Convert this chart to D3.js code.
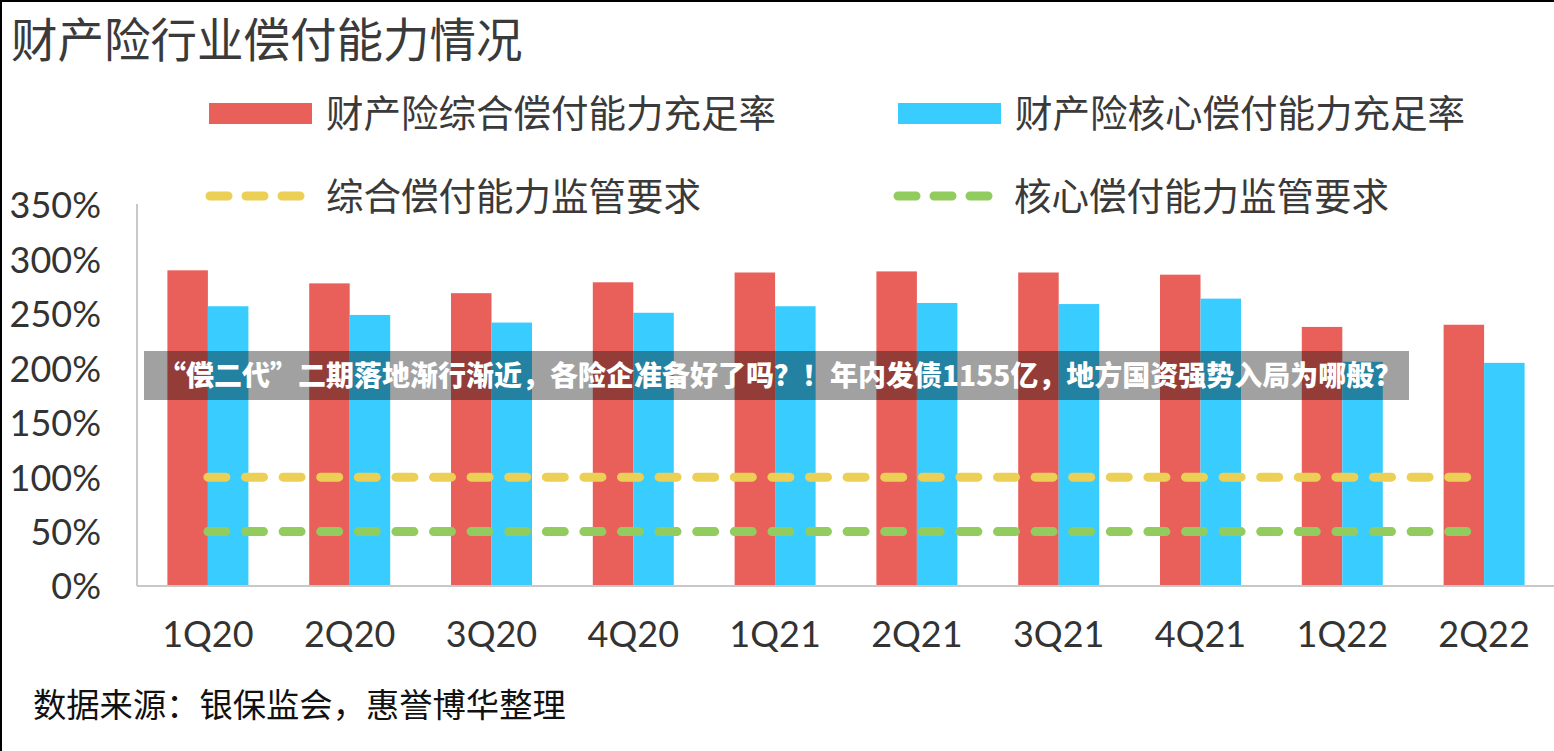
<!DOCTYPE html>
<html>
<head>
<meta charset="utf-8">
<script src="https://cdn.jsdelivr.net/npm/d3@7"></script>
<style>
  html, body { margin: 0; padding: 0; background: #fff; }
  svg { display: block; }
</style>
</head>
<body>
<svg id="chart" width="1554" height="751"></svg>
<script>
// ---- data ----
const categories = ['1Q20','2Q20','3Q20','4Q20','1Q21','2Q21','3Q21','4Q21','1Q22','2Q22'];
const comprehensiveRatio = [290, 278, 269, 279, 288, 289, 288, 286, 238, 240];
const coreRatio = [257, 249, 242, 251, 257, 260, 259, 264, 206, 205];
const comprehensiveRequirement = 100;
const coreRequirement = 50;
const yTicks = [0, 50, 100, 150, 200, 250, 300, 350];
const seriesNames = ['财产险综合偿付能力充足率', '财产险核心偿付能力充足率'];
const lineNames = ['综合偿付能力监管要求', '核心偿付能力监管要求'];
const titleText = '财产险行业偿付能力情况';
const sourceText = '数据来源：银保监会，惠誉博华整理';
const bannerText = '“偿二代”二期落地渐行渐近，各险企准备好了吗？！年内发债1155亿，地方国资强势入局为哪般？';

const colors = { red: '#E9605A', blue: '#38CCFF', yellow: '#ECCF55', green: '#92CB5E' };
const cjk = '"Noto Sans CJK SC", "Noto Sans", sans-serif';
const latin = 'Lato, "Noto Sans", sans-serif';

const svg = d3.select('#chart');

// border (left and top)
svg.append('line').attr('x1', 1).attr('y1', 0).attr('x2', 1).attr('y2', 751).attr('stroke', '#000').attr('stroke-width', 2);
svg.append('line').attr('x1', 0).attr('y1', 1).attr('x2', 1554).attr('y2', 1).attr('stroke', '#000').attr('stroke-width', 2);

// title
svg.append('text').attr('x', 11).attr('y', 57)
  .attr('font-family', cjk).attr('font-size', 46.5).attr('fill', '#3a3a3a')
  .text(titleText);

// scales
const plot = { left: 137, right: 1555, top: 205, bottom: 586 };
const x = d3.scaleBand().domain(categories).range([plot.left, plot.right]).padding(0);
const inner = d3.scaleBand().domain([0, 1]).range([30.4, x.bandwidth() - 30.4]).padding(0);
const y = d3.scaleLinear().domain([0, 350]).range([plot.bottom, plot.top]);

// y axis labels
const yAxis = d3.axisLeft(y).tickValues(yTicks).tickFormat(d => d + '%').tickSize(0).tickPadding(0);
const gy = svg.append('g').attr('transform', 'translate(101,0)').call(yAxis);
gy.select('.domain').remove();
gy.selectAll('text').attr('font-family', latin).attr('font-size', 36).attr('fill', '#333').attr('dy', '0.36em');

// bars
const barData = categories.map((c, i) => [
  { c, s: 0, v: comprehensiveRatio[i] },
  { c, s: 1, v: coreRatio[i] }
]).flat();
svg.append('g').selectAll('rect').data(barData).join('rect')
  .attr('x', d => x(d.c) + inner(d.s))
  .attr('width', inner.bandwidth())
  .attr('y', d => y(d.v))
  .attr('height', d => y(0) - y(d.v))
  .attr('fill', d => d.s === 0 ? colors.red : colors.blue);

// axes lines
svg.append('line').attr('x1', plot.left).attr('x2', plot.left).attr('y1', 204).attr('y2', plot.bottom)
  .attr('stroke', '#C8C8C8').attr('stroke-width', 2);
svg.append('line').attr('x1', plot.left).attr('x2', plot.right).attr('y1', plot.bottom).attr('y2', plot.bottom)
  .attr('stroke', '#C8C8C8').attr('stroke-width', 2);

// x axis labels
const xAxis = d3.axisBottom(x).tickSize(0).tickPadding(0);
const gx = svg.append('g').attr('transform', 'translate(0,634)').call(xAxis);
gx.select('.domain').remove();
gx.selectAll('text').attr('font-family', latin).attr('font-size', 36).attr('fill', '#333').attr('dy', '0.36em');

// requirement dashed lines
const lineGen = d3.line().x(d => x(d.c) + x.bandwidth() / 2).y(d => y(d.v));
[[comprehensiveRequirement, colors.yellow], [coreRequirement, colors.green]].forEach(([v, col]) => {
  svg.append('path')
    .datum(categories.map(c => ({ c, v })))
    .attr('d', lineGen)
    .attr('fill', 'none').attr('stroke', col).attr('stroke-width', 9)
    .attr('stroke-linecap', 'round').attr('stroke-dasharray', '18 19.6');
});

// legend
const legend = svg.append('g');
const legItems = [
  { type: 'rect', col: colors.red, x: 209, y: 113, label: seriesNames[0] },
  { type: 'rect', col: colors.blue, x: 898, y: 113, label: seriesNames[1] },
  { type: 'line', col: colors.yellow, x: 209, y: 196, label: lineNames[0] },
  { type: 'line', col: colors.green, x: 897, y: 196, label: lineNames[1] }
];
legItems.forEach(it => {
  if (it.type === 'rect') {
    legend.append('rect').attr('x', it.x).attr('y', it.y - 10).attr('width', 103).attr('height', 21).attr('fill', it.col);
  } else {
    legend.append('line').attr('x1', it.x + 1).attr('x2', it.x + 100).attr('y1', it.y).attr('y2', it.y)
      .attr('stroke', it.col).attr('stroke-width', 9).attr('stroke-linecap', 'round').attr('stroke-dasharray', '18 18');
  }
  legend.append('text').attr('x', it.x + 117).attr('y', it.y).attr('dy', '0.36em')
    .attr('font-family', cjk).attr('font-size', 37.5).attr('fill', '#3a3a3a').text(it.label);
});

// source
svg.append('text').attr('x', 33).attr('y', 705).attr('dy', '0.36em')
  .attr('font-family', cjk).attr('font-size', 33.3).attr('fill', '#111').text(sourceText);

// overlay banner
svg.append('rect').attr('x', 144).attr('y', 351).attr('width', 1265).attr('height', 49)
  .attr('fill', 'rgba(0,0,0,0.37)');
svg.append('text').attr('x', 158).attr('y', 376).attr('dy', '0.36em')
  .attr('font-family', cjk).attr('font-weight', 900).attr('font-size', 28).attr('fill', '#fff')
  .text(bannerText);
</script>
</body>
</html>
